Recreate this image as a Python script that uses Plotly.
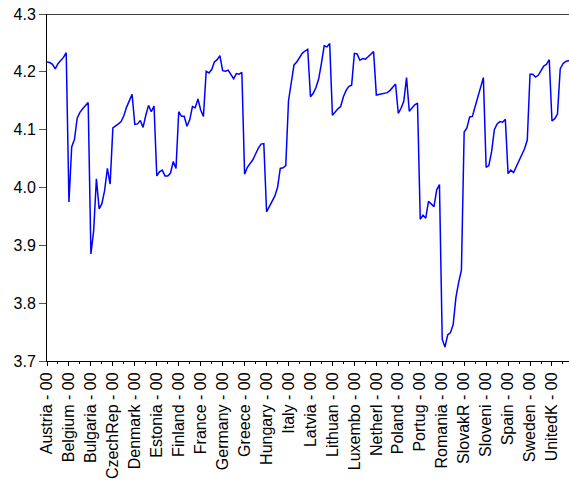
import plotly.graph_objects as go

# Panel: 24 countries, 8 yearly observations each (2000-2007)
countries = ["Austria", "Belgium", "Bulgaria", "CzechRep", "Denmark", "Estonia",
             "Finland", "France", "Germany", "Greece", "Hungary", "Italy",
             "Latvia", "Lithuan", "Luxembo", "Netherl", "Poland", "Portug",
             "Romania", "SlovakR", "Sloveni", "Spain", "Sweden", "UnitedK"]
first_year = "00"

austria  = [4.217, 4.216, 4.213, 4.205, 4.214, 4.219, 4.225, 4.233]
belgium  = [3.975, 4.070, 4.083, 4.120, 4.130, 4.136, 4.142, 4.147]
bulgaria = [3.885, 3.925, 4.015, 3.963, 3.972, 3.995, 4.033, 4.006]
czechrep = [4.103, 4.106, 4.110, 4.114, 4.124, 4.139, 4.149, 4.161]
denmark  = [4.109, 4.110, 4.116, 4.104, 4.125, 4.142, 4.131, 4.141]
estonia  = [4.020, 4.027, 4.030, 4.020, 4.020, 4.025, 4.045, 4.033]
finland  = [4.131, 4.123, 4.123, 4.106, 4.117, 4.140, 4.138, 4.153]
france   = [4.134, 4.123, 4.201, 4.198, 4.204, 4.217, 4.221, 4.228]
germany  = [4.202, 4.201, 4.203, 4.196, 4.188, 4.197, 4.196, 4.199]
greece   = [4.023, 4.035, 4.041, 4.048, 4.058, 4.068, 4.075, 4.076]
hungary  = [3.958, 3.967, 3.975, 3.985, 4.000, 4.033, 4.034, 4.038]
italy    = [4.150, 4.185, 4.212, 4.217, 4.224, 4.232, 4.236, 4.239]
latvia   = [4.157, 4.163, 4.173, 4.188, 4.215, 4.245, 4.243, 4.249]
lithuan  = [4.125, 4.131, 4.136, 4.140, 4.157, 4.168, 4.175, 4.177]
luxembo  = [4.232, 4.231, 4.220, 4.223, 4.222, 4.226, 4.230, 4.235]
netherl  = [4.160, 4.161, 4.161, 4.162, 4.164, 4.168, 4.174, 4.179]
poland   = [4.128, 4.137, 4.149, 4.190, 4.132, 4.137, 4.143, 4.146]
portug   = [3.945, 3.952, 3.947, 3.976, 3.972, 3.967, 3.996, 4.005]
romania  = [3.738, 3.724, 3.745, 3.749, 3.763, 3.810, 3.836, 3.857]
slovakr  = [4.096, 4.103, 4.122, 4.123, 4.140, 4.157, 4.173, 4.190]
sloveni  = [4.035, 4.038, 4.062, 4.100, 4.110, 4.114, 4.113, 4.118]
spain    = [4.024, 4.030, 4.026, 4.036, 4.046, 4.055, 4.067, 4.082]
sweden   = [4.196, 4.196, 4.191, 4.194, 4.201, 4.210, 4.213, 4.221]
unitedk  = [4.115, 4.119, 4.127, 4.205, 4.214, 4.218, 4.219, 4.220]

series = [austria, belgium, bulgaria, czechrep, denmark, estonia, finland,
          france, germany, greece, hungary, italy, latvia, lithuan, luxembo,
          netherl, poland, portug, romania, slovakr, sloveni, spain, sweden,
          unitedk]

y_ticks = [3.7, 3.8, 3.9, 4.0, 4.1, 4.2, 4.3]

# Stack the panel into one observation index
values = [v for s in series for v in s]
per_country = len(austria)
obs = list(range(len(values)))
tick_pos = [i * per_country for i in range(len(countries))]
tick_txt = [f"{c} - {first_year}" for c in countries]

fig = go.Figure()
fig.add_trace(go.Scatter(
    x=obs, y=values, mode="lines",
    line=dict(color="#0000FF", width=1.5),
    showlegend=False, hoverinfo="skip",
))

# Frame line along the top of the plot
fig.add_shape(type="line", xref="paper", yref="y",
              x0=0, x1=1, y0=4.3, y1=4.3,
              line=dict(color="#404040", width=2))

font = "Liberation Sans, Arial, sans-serif"
fig.update_layout(
    width=569, height=483,
    margin=dict(l=47, r=0, t=14, b=122),
    paper_bgcolor="white", plot_bgcolor="white",
    font=dict(family=font, color="#000000", size=16),
    xaxis=dict(
        range=[0, 190.2], showgrid=False, zeroline=False,
        showline=True, linecolor="#000000", linewidth=1,
        tickmode="array", tickvals=tick_pos, ticktext=tick_txt,
        ticks="outside", ticklen=4, tickcolor="#000000", tickwidth=1,
        tickangle=-90, tickfont=dict(family=font, size=16),
        minor=dict(tickmode="linear", tick0=4, dtick=8,
                   ticks="outside", ticklen=2, tickcolor="#000000"),
    ),
    yaxis=dict(
        range=[3.7, 4.3], showgrid=False, zeroline=False,
        showline=True, linecolor="#000000", linewidth=1,
        tickmode="array", tickvals=y_ticks,
        ticktext=[f"{t:.1f}" for t in y_ticks],
        ticks="outside", ticklen=7, tickcolor="#555555", tickwidth=1,
        tickfont=dict(family=font, size=16),
    ),
)

fig.write_html("out.html")
